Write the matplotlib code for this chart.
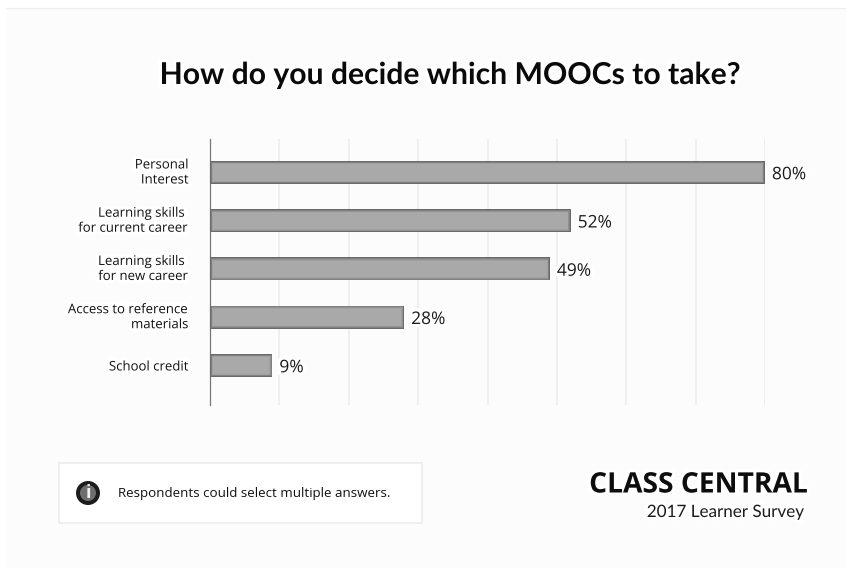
import matplotlib
matplotlib.use("Agg")
import matplotlib.pyplot as plt
import matplotlib.patheffects as pe
from matplotlib.patches import Rectangle, Circle

categories = ["Personal\nInterest", "Learning skills \nfor current career",
              "Learning skills \nfor new career", "Access to reference\nmaterials",
              "School credit"]
shares = [80, 52, 49, 28, 9]
grid_ticks = [0, 10, 20, 30, 40, 50, 60, 70, 80]

TITLE = "How do you decide which MOOCs to take?"
NOTE = "Respondents could select multiple answers."
BRAND = "CLASS CENTRAL"
SUBBRAND = "2017 Learner Survey"

W, H = 846, 568
fig = plt.figure(figsize=(W / 100, H / 100), dpi=100, facecolor="white")

# Overlay in pixel coordinates for the panel, title and footer
bg = fig.add_axes([0, 0, 1, 1], zorder=0)
bg.set_xlim(0, W)
bg.set_ylim(H, 0)
bg.axis("off")
bg.add_patch(Rectangle((6, 8), W - 6, H - 8, fc="#fcfcfc", ec="none"))
bg.plot([6, W], [7.5, 7.5], color="#eeeeee", lw=1)

halo = [pe.withStroke(linewidth=5, foreground="white")]

# Bar chart
ax = fig.add_axes([210 / W, 1 - 405 / H, 555 / W, 266 / H], zorder=1)
ax.patch.set_alpha(0)
ax.set_xlim(0, 80)
ax.set_ylim(4.82, -0.694)
for s in ("top", "right", "bottom"):
    ax.spines[s].set_visible(False)
ax.spines["left"].set_color("#777777")
ax.spines["left"].set_linewidth(0.9)
ax.set_xticks(grid_ticks)
ax.tick_params(axis="x", length=0, labelbottom=False)
ax.grid(axis="x", color="#eeeeee", lw=1.3)
ax.set_axisbelow(True)

ypos = list(range(len(categories)))
ax.set_yticks(ypos)
ax.set_yticklabels(categories, fontsize=9.5, family="Open Sans", color="#111111",
                   ma="right", va="center", linespacing=1.2, path_effects=halo)
ax.get_yticklabels()[-1].set_va("center_baseline")
ax.tick_params(axis="y", length=0, pad=15)

# Soft dark rim around each bar, built from nested insets
BAR_H = 0.477
shades = ["#6a6a6a", "#808080", "#929292", "#a0a0a0", "#a9a9a9"]
px_x = 80 / 555
px_y = 5.514 / 266
for k, c in enumerate(shades):
    ax.barh(ypos, [v - 2 * k * px_x * 0.8 for v in shares],
            height=BAR_H - 2 * k * px_y * 0.8,
            left=k * px_x * 0.8, color=c, edgecolor="none", zorder=3)

for y, v in zip(ypos, shares):
    ax.annotate(f"{v}%", (v, y), xytext=(5, -2), textcoords="offset points",
                va="center", ha="left", fontsize=12.5, family="Open Sans",
                color="#1a1a1a", path_effects=halo, zorder=4)

# Title
bg.text(450, 75, TITLE, ha="center", va="center", fontsize=21.7, family="Lato",
        weight="bold", color="#0a0a0a", path_effects=halo)

# Note box with info icon
bg.add_patch(Rectangle((59, 463), 363, 60, fc="white", ec="#ececec", lw=1.2))
bg.add_patch(Circle((88, 493), 12, fc="#1c1c1c", ec="none"))
bg.add_patch(Circle((88, 493), 8, fc="#6e6e6e", ec="none"))
bg.text(88, 492.5, "i", ha="center", va="center", fontsize=13, family="Open Sans",
        weight="bold", color="#f2f2f2")
bg.text(118, 493, NOTE, ha="left", va="center", fontsize=9.6, family="Open Sans",
        color="#111111")

# Branding
bg.text(808, 485, BRAND, ha="right", va="center", fontsize=20.3, family="Open Sans",
        weight="bold", color="#0d0d0d", path_effects=halo)
bg.text(805, 512, SUBBRAND, ha="right", va="center", fontsize=12.3, family="Lato",
        color="#1a1a1a", path_effects=halo)

fig.savefig("out.png", dpi=100, facecolor=fig.get_facecolor())
